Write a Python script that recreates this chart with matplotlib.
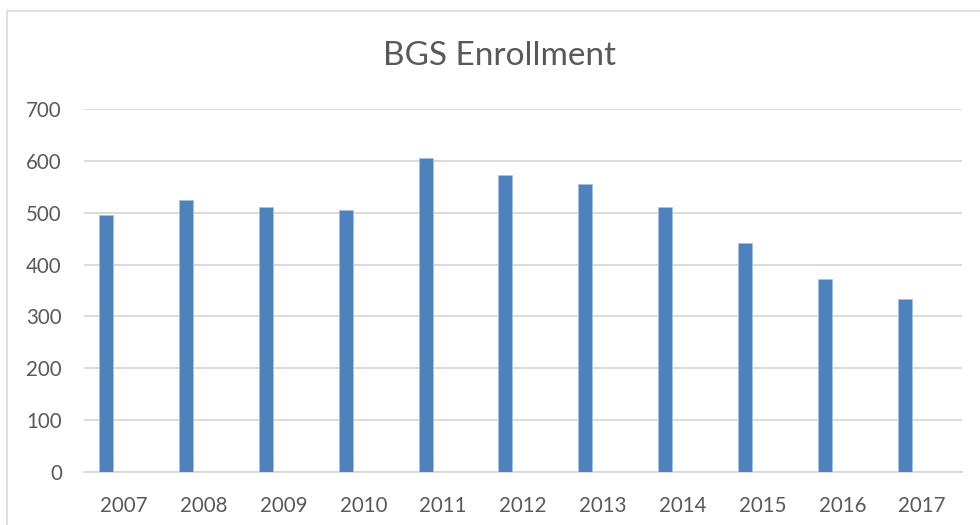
import matplotlib
matplotlib.use("Agg")
import matplotlib.pyplot as plt
from matplotlib.patches import Rectangle

years = ["2007", "2008", "2009", "2010", "2011", "2012", "2013", "2014", "2015", "2016", "2017"]
enrollment = [495, 524, 511, 505, 606, 572, 556, 511, 442, 372, 333]
yticks = [0, 100, 200, 300, 400, 500, 600, 700]

fig = plt.figure(figsize=(9.8, 5.25), dpi=100)
ax = fig.add_axes([84/980, 1-472/525, (962-84)/980, (472-109)/525])

x = list(range(len(years)))
ax.bar([i - 0.22 for i in x], enrollment, width=0.175, color="#4F81BD",
       edgecolor="#A9C1E0", linewidth=0.6, zorder=3)

ax.set_xlim(-0.5, len(years) - 0.5)
ax.set_ylim(0, 700)
ax.set_yticks(yticks)
ax.set_xticks(x)
ax.set_xticklabels(years)
ax.yaxis.grid(True, color="#D9D9D9", linewidth=1.3, zorder=0)
for s in ["top", "right", "left"]:
    ax.spines[s].set_visible(False)
ax.spines["bottom"].set_color("#D9D9D9")
ax.spines["bottom"].set_linewidth(1.3)
ax.tick_params(axis="both", length=0, labelsize=14.8, labelcolor="#595959")
ax.tick_params(axis="x", pad=17)
ax.tick_params(axis="y", pad=16)
for lab in ax.get_xticklabels() + ax.get_yticklabels():
    lab.set_family("Lato")

fig.text(0.51, 0.893, "BGS Enrollment", ha="center", va="center",
         fontsize=24, color="#595959", family="Lato")

fig.patches.append(Rectangle((7/980, -0.1), 1.2, 1 - 10.5/525 + 0.1,
                             transform=fig.transFigure, fill=False,
                             edgecolor="#D9D9D9", linewidth=1.2))

fig.savefig("out.png", dpi=100)
